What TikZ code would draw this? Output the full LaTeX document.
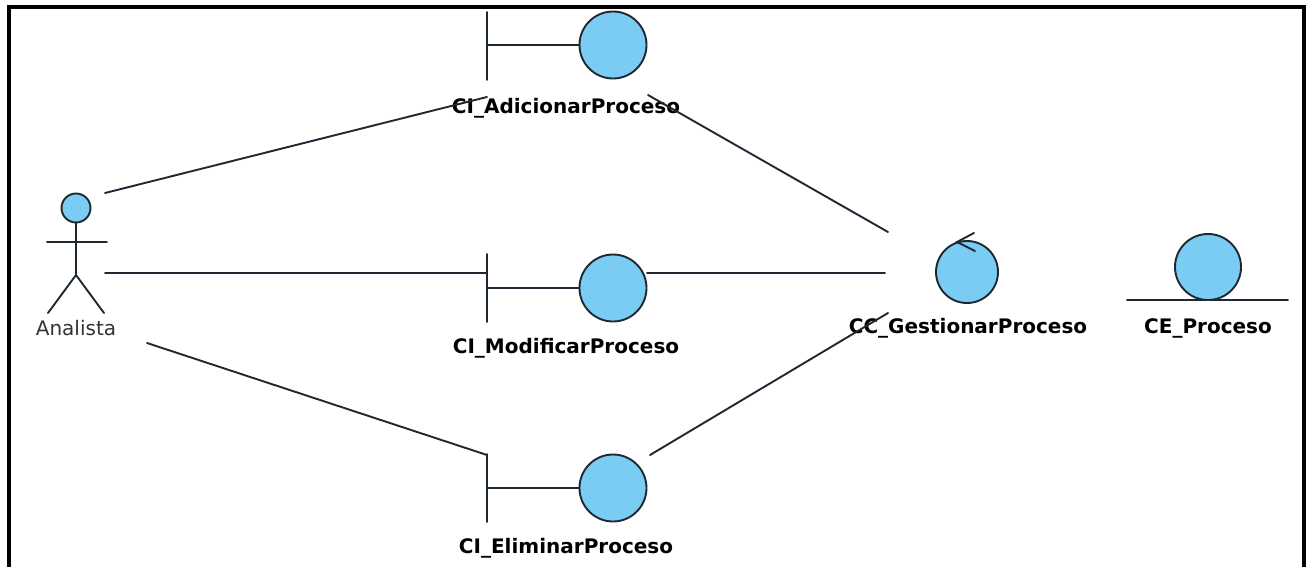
\documentclass[tikz,border=0pt]{standalone}
\usepackage{fontspec}
\newfontfamily\djv{DejaVu Sans}
\definecolor{ublue}{RGB}{122,204,242}
\definecolor{edge}{RGB}{30,40,50}
\begin{document}
\begin{tikzpicture}[x=1pt,y=-1pt,
  ln/.style={line width=1.9pt, draw=edge, line cap=round},
  shp/.style={circle, line width=1.9pt, draw=edge, fill=ublue, inner sep=0pt},
  lbl/.style={font=\djv\bfseries\fontsize{20}{24}\selectfont, text=black, inner sep=0pt},
  act/.style={font=\djv\fontsize{20}{24}\selectfont, text=black!80, inner sep=0pt},
  frame/.style={line width=4pt, draw=black}
]
\useasboundingbox (0,0) rectangle (1308,567);
\draw[frame] (9,570) -- (9,7) -- (1304,7) -- (1304,570);

% Actor
\node[shp, minimum size=29pt] (head) at (76,208) {};
\draw[ln] (head.south) -- (76,275) coordinate (hip);
\draw[ln] (47,242) -- (107,242);
\draw[ln] (hip) -- (48,313);
\draw[ln] (hip) -- (104,313);
\node[act] (analista) at (76,328) {Analista};

% Boundary: Adicionar
\draw[ln] (487,12) -- (487,80);
\node[shp, minimum size=67pt] (adic) at (613,45) {};
\draw[ln] (487,45) -- (adic.west);
\node[lbl] (adicL) at (566,108) {CI\_AdicionarProceso};

% Boundary: Modificar
\draw[ln] (487,254) -- (487,322);
\node[shp, minimum size=67pt] (modi) at (613,288) {};
\draw[ln] (487,288) -- (modi.west);
\node[lbl] (modiL) at (566,348) {CI\_ModificarProceso};

% Boundary: Eliminar
\draw[ln] (487,454) -- (487,522);
\node[shp, minimum size=67pt] (elim) at (613,488) {};
\draw[ln] (487,488) -- (elim.west);
\node[lbl] (elimL) at (566,548) {CI\_EliminarProceso};

% Control
\node[shp, minimum size=62pt] (ctrl) at (967,272) {};
\draw[ln] (974,233) -- (957,242) -- (975,251);
\node[lbl] (ctrlL) at (968,328) {CC\_GestionarProceso};

% Entity
\node[shp, minimum size=66pt] (ent) at (1208,267) {};
\draw[ln] (1127,300) -- (1288,300);
\node[lbl] (entL) at (1208,328) {CE\_Proceso};

% connector end points
\coordinate (a1) at (105,193);
\coordinate (a2) at (105,273);
\coordinate (a3) at (147,343);
\coordinate (adicIn) at (487,97);
\coordinate (adicOut) at (648,95);
\coordinate (modiIn) at (487,273);
\coordinate (modiOut) at (647,273);
\coordinate (elimIn) at (487,455);
\coordinate (elimOut) at (650,455);
\coordinate (ctrlA) at (888,232);
\coordinate (ctrlB) at (885,273);
\coordinate (ctrlC) at (888,313);

\draw[ln] (a1) -- (adicIn);
\draw[ln] (a2) -- (modiIn);
\draw[ln] (a3) -- (elimIn);
\draw[ln] (adicOut) -- (ctrlA);
\draw[ln] (modiOut) -- (ctrlB);
\draw[ln] (elimOut) -- (ctrlC);
\end{tikzpicture}
\end{document}
